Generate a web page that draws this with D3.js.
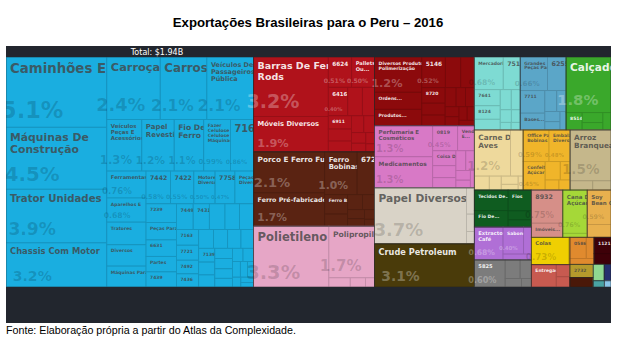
<!DOCTYPE html>
<html><head><meta charset="utf-8">
<script src="https://cdn.jsdelivr.net/npm/d3@7"></script>
<style>body{margin:0;background:#fff}svg{display:block}</style>
</head><body>
<svg id="chart" width="622" height="345"></svg>
<script>
// ---- Texts ----
const titleText = "Exportações Brasileiras para o Peru – 2016";
const sourceText = "Fonte: Elaboração própria a partir do Atlas da Complexidade.";
const totalText = "Total: $1.94B";

// ---- Sectors (treemap groups) ----
const sectorNames = ["Máquinas", "Metais", "Ferro e Aço", "Plásticos", "Químicos", "Farmacêuticos",
  "Papel", "Petróleo", "Eletrônicos", "Peças", "Calçados", "Carnes", "Alimentos", "Cereais",
  "Têxteis", "Óleos Essenciais", "Borrachas", "Mobiliário", "Açúcares", "Óleos Vegetais", "Colas",
  "Diversos", "Frutas", "Bebidas", "Minerais", "Madeira", "Sementes", "Instrumentos", "Plantas", "Fibras"];
const sectorColors = ["#1aaee0", "#b0121b", "#5a2312", "#e6a6c6", "#8c0a0c", "#d879c6",
  "#d9d3c7", "#4a3b0a", "#7edbd3", "#5ba6c8", "#3aa82b", "#eed99c", "#f0b52a", "#c5b78b",
  "#0f5c20", "#b06fd6", "#7c7c7c", "#d68f88", "#a5d838", "#e8b04e", "#efcf02",
  "#c85a50", "#e08a2e", "#3e0008", "#b59a2c", "#4a1808", "#8fd890", "#26306e", "#4aa3a3", "#8ac4e8"];

// ---- Products and shares (% of total) per sector ----
const maquinas = ["Caminhões E", "Máquinas De Construção", "Trator Unidades", "Chassis Com Motor",
  "Carroçaria", "Carros", "Veículos De Passageiros Pública", "Veículos Peças E Acessórios",
  "Papel Revestido", "Fio De Ferro", "Fazer Celulose Celulose Máquinas", "7162",
  "Ferramentas...", "Aparelhos E Peças...", "Tratores", "Diversos Máquinas...", "Máquinas Para as ac...",
  "7442", "7422", "Motores Diversos", "7758", "Peças Diversas...", "7239", "Peças Para Sistema...",
  "6631", "Partes Motor...", "7439", "7449", "7431", "7284", "7783", "7812", "7163", "7721", "7492",
  "7436", "7414", "7526", "7731", "7415", "7139", "7234", "7243", "7764", "7762", "7283", "7788",
  "7499", "7149", "7522", "7852", "7861", "7424", "7169", "7434"];
const maquinasShare = [5.1, 4.5, 3.9, 3.2, 2.4, 2.1, 2.1, 1.3, 1.2, 1.1, 0.99, 0.86,
  0.76, 0.68, 0.64, 0.60, 0.59, 0.58, 0.55, 0.50, 0.47, 0.44, 0.41, 0.38, 0.36, 0.34, 0.33,
  0.31, 0.30, 0.29, 0.27, 0.26, 0.25, 0.24, 0.22, 0.21, 0.20, 0.19, 0.18, 0.17, 0.16, 0.15,
  0.14, 0.13, 0.13, 0.12, 0.11, 0.10, 0.10, 0.09, 0.08, 0.07, 0.06, 0.05, 0.04];

const metais = ["Barras De Ferro E Rods", "Móveis Diversos", "6624", "Pallets Ou...", "6416",
  "6935", "6785", "6911", "6994", "6749", "6939", "6951", "6992", "6770", "6794", "6961"];
const metaisShare = [3.2, 1.9, 0.51, 0.50, 0.40, 0.30, 0.25, 0.22, 0.20, 0.18, 0.15, 0.13, 0.11, 0.09, 0.07, 0.05];

const ferro = ["Porco E Ferro Fundido", "Ferro Pré-fabricados", "Ferro Bobinas", "6725", "Ferro Ba...",
  "6727", "6712", "6731", "6747", "6732", "6760", "6741"];
const ferroShare = [2.1, 1.7, 1.0, 0.54, 0.32, 0.20, 0.16, 0.13, 0.11, 0.09, 0.07, 0.05];

const plasticos = ["Polietileno", "Polipropileno", "3902", "3907", "3920"];
const plasticosShare = [3.3, 1.7, 0.14, 0.10, 0.06];

const quimicos = ["Diversos Produtos Da Polimerização", "Ordens...", "Produtos...", "5146", "5169",
  "2331", "8720", "5157", "5922", "5986", "5989", "5162", "5148", "5831", "5821", "5137", "5161"];
const quimicosShare = [1.2, 0.58, 0.56, 0.52, 0.34, 0.30, 0.26, 0.20, 0.18, 0.15, 0.13, 0.12, 0.10, 0.09, 0.08, 0.07, 0.06];

const farma = ["Perfumaria E Cosméticos", "Medicamentos", "0819", "Vendas E...", "Coisa De...",
  "5419", "5532", "5542", "5417", "5413", "5530", "5416"];
const farmaShare = [1.3, 1.3, 0.45, 0.30, 0.25, 0.20, 0.17, 0.14, 0.12, 0.10, 0.08, 0.05];

const papel = ["Papel Diversos", "6415", "6419", "6421"];
const papelShare = [3.7, 0.15, 0.10, 0.07];

const petroleo = ["Crude Petroleum"];
const petroleoShare = [3.1];

const eletronicos = ["Mercadorias...", "7518", "7641", "8124", "7611", "7638", "7642", "7599", "7648", "7622", "7628"];
const eletronicosShare = [0.68, 0.40, 0.30, 0.25, 0.20, 0.16, 0.13, 0.10, 0.08, 0.06, 0.05];

const pecas = ["Grandes Peças Para Veículos", "6255", "7711", "Bases...", "6251", "7712", "6254", "7732", "6259"];
const pecasShare = [0.66, 0.45, 0.40, 0.30, 0.18, 0.14, 0.11, 0.09, 0.08];

const calcados = ["Calçados", "8514", "8512", "8519", "8517"];
const calcadosShare = [1.8, 0.20, 0.15, 0.11, 0.10];

const carnes = ["Carne De Aves", "0989", "0123", "0149", "0142", "0113", "0111"];
const carnesShare = [1.2, 0.42, 0.15, 0.12, 0.10, 0.07, 0.05];

const alimentos = ["Office Paper Bobinas", "Embalagens Diversas", "Confeitaria Açúcar", "0730", "0612", "0485", "0484"];
const alimentosShare = [0.59, 0.48, 0.45, 0.20, 0.13, 0.10, 0.08];

const cereais = ["Arroz Branqueado", "0423", "0422"];
const cereaisShare = [1.5, 0.15, 0.12];

const texteis = ["Tecidos De...", "Fio De...", "Fios Sintéticos Sintéticos", "6531", "6513"];
const texteisShare = [0.50, 0.40, 0.35, 0.15, 0.12];

const essenciais = ["Extractos E Café", "Sabonetes", "5514", "5513"];
const essenciaisShare = [0.68, 0.40, 0.15, 0.12];

const borrachas = ["5825", "5823", "5827", "5828", "5826"];
const borrachasShare = [0.60, 0.20, 0.15, 0.10, 0.06];

const mobiliario = ["8932", "Imóveis..."];
const mobiliarioShare = [0.75, 0.32];

const acucares = ["Cana De Açúcar", "0616"];
const acucaresShare = [0.76, 0.07];

const oleos = ["Soy Bean Oil", "4236"];
const oleosShare = [0.59, 0.22];

const colas = ["Colas", "5921"];
const colasShare = [0.73, 0.03];

const diversos = ["Entregadores...", "8973", "8972"];
const diversosShare = [0.40, 0.12, 0.10];

const frutas = ["0586", "0589", "0583"];
const frutasShare = [0.25, 0.12, 0.10];

const bebidas = ["1121", "1123"];
const bebidasShare = [0.20, 0.13];

const minerais = ["2732"], mineraisShare = [0.22];
const madeira = ["2483"], madeiraShare = [0.16];
const sementes = ["2929"], sementesShare = [0.13];
const instrumentos = ["8811"], instrumentosShare = [0.08];
const plantas = ["2925"], plantasShare = [0.05];
const fibras = ["2926"], fibrasShare = [0.03];

const sectorProducts = [maquinas, metais, ferro, plasticos, quimicos, farma, papel, petroleo,
  eletronicos, pecas, calcados, carnes, alimentos, cereais, texteis, essenciais, borrachas,
  mobiliario, acucares, oleos, colas, diversos, frutas, bebidas, minerais, madeira, sementes,
  instrumentos, plantas, fibras];
const sectorShares = [maquinasShare, metaisShare, ferroShare, plasticosShare, quimicosShare, farmaShare,
  papelShare, petroleoShare, eletronicosShare, pecasShare, calcadosShare, carnesShare, alimentosShare,
  cereaisShare, texteisShare, essenciaisShare, borrachasShare, mobiliarioShare, acucaresShare,
  oleosShare, colasShare, diversosShare, frutasShare, bebidasShare, mineraisShare, madeiraShare,
  sementesShare, instrumentosShare, plantasShare, fibrasShare];

// ---- Layout ----
const svg = d3.select("#chart");
const frame = {x: 6, y: 46, w: 605, h: 277};
const map = {x: 6, y: 57, w: 605, h: 230};

const color = d3.scaleOrdinal(sectorNames, sectorColors);
const fmt = d3.format(".2r");

const data = {name: "Brasil → Peru", children: sectorNames.map((s, i) => ({
  name: s,
  children: sectorProducts[i].map((n, j) => ({name: n, share: sectorShares[i][j]}))
}))};

const root = d3.hierarchy(data)
  .sum(d => d.share || 0)
  .sort((a, b) => b.value - a.value);

d3.treemap().size([map.w, map.h]).tile(d3.treemapSquarify)(root);

// text measurement in em units (DejaVu Sans Bold)
const ctx = document.createElement("canvas").getContext("2d");
ctx.font = "bold 100px 'DejaVu Sans'";
const emCache = new Map();
function em(t) {
  if (!emCache.has(t)) emCache.set(t, ctx.measureText(t).width / 100);
  return emCache.get(t);
}

// labels are laid out with a slightly narrow width estimate, so long words may spill over
const NARROW = 0.76;

function wrap(words, fs, bw) {
  const k = fs * NARROW;
  const lines = [];
  let cur = "";
  for (const wd of words) {
    const t = cur ? cur + " " + wd : wd;
    if (!cur || em(t) * k <= bw) cur = t;
    else { lines.push(cur); cur = wd; }
  }
  lines.push(cur);
  return lines;
}

function fitName(name, w, h) {
  const words = name.split(" ");
  const bw = w - 2, bh = h * 0.42;
  const areaSize = Math.sqrt(0.2 * w * h / (em(name) * NARROW));
  for (let fs = Math.min(16, h * 0.19, areaSize); fs >= 4.5; fs -= 0.25) {
    if (words.some(wd => em(wd) * fs * NARROW > bw)) continue;
    const lines = wrap(words, fs, bw);
    if (lines.length * fs * 1.15 <= bh) return {fs, lines};
  }
  const fs = 4.5;
  const maxLines = Math.max(1, Math.floor(bh / (fs * 1.15)));
  return {fs, lines: wrap(words, fs, bw).slice(0, maxLines)};
}

// background frame
svg.append("rect").attr("x", frame.x).attr("y", frame.y).attr("width", frame.w).attr("height", frame.h)
  .attr("fill", "#22262e");

svg.append("text").attr("x", 157).attr("y", 55).attr("text-anchor", "middle")
  .attr("font-family", "'DejaVu Sans', sans-serif").attr("font-size", 8).attr("fill", "#fff")
  .text(totalText);

// the treemap is clipped to its own area
svg.append("defs").append("clipPath").attr("id", "mapClip")
  .append("rect").attr("width", map.w).attr("height", map.h);

const g = svg.append("g")
  .attr("transform", `translate(${map.x},${map.y})`)
  .attr("clip-path", "url(#mapClip)");

function luminance(c) {
  const rgb = d3.rgb(c);
  const f = v => { v /= 255; return v <= 0.03928 ? v / 12.92 : Math.pow((v + 0.055) / 1.055, 2.4); };
  return 0.2126 * f(rgb.r) + 0.7152 * f(rgb.g) + 0.0722 * f(rgb.b);
}

root.children.forEach(sector => {
  const c = color(sector.data.name);
  const dark = luminance(c) < 0.3;
  const sg = g.append("g");
  sector.children.forEach(leaf => {
    const w = leaf.x1 - leaf.x0, h = leaf.y1 - leaf.y0;
    const lg = sg.append("g");
    lg.append("rect")
      .attr("x", leaf.x0).attr("y", leaf.y0).attr("width", w).attr("height", h)
      .attr("fill", c)
      .attr("stroke", d3.color(c).darker(0.45))
      .attr("stroke-width", 0.8);

    if (w >= 16 && h >= 13) {
      const fit = fitName(leaf.data.name, w, h);
      const t = lg.append("text")
        .attr("font-family", "'DejaVu Sans', sans-serif")
        .attr("font-weight", "bold")
        .attr("font-size", fit.fs)
        .attr("fill", dark ? "#ffffff" : "#444444")
        .attr("fill-opacity", dark ? 0.9 : 0.8);
      fit.lines.forEach((ln, i) => {
        t.append("tspan").attr("x", leaf.x0 + 4)
          .attr("y", leaf.y0 + 3 + fit.fs + i * fit.fs * 1.1)
          .text(ln);
      });
    }

    const pct = fmt(leaf.data.share) + "%";
    const sfs = Math.min(h * 0.32, 0.92 * w / em(pct));
    if (h >= 24 && w >= 18 && sfs >= 5) {
      lg.append("text")
        .attr("x", leaf.x0 + 0.26 * w)
        .attr("y", leaf.y1 - 0.12 * h - 1)
        .attr("text-anchor", "middle")
        .attr("font-family", "'DejaVu Sans', sans-serif")
        .attr("font-weight", "bold")
        .attr("font-size", sfs)
        .attr("fill", dark ? "#ffffff" : "#000000")
        .attr("fill-opacity", dark ? 0.3 : 0.17)
        .text(pct);
    }
  });
});

// sector outlines
g.append("g").selectAll("rect").data(root.children).join("rect")
  .attr("x", d => d.x0).attr("y", d => d.y0)
  .attr("width", d => d.x1 - d.x0).attr("height", d => d.y1 - d.y0)
  .attr("fill", "none").attr("stroke", "#2a2a2a").attr("stroke-opacity", 0.55).attr("stroke-width", 0.8);

// title and source
svg.append("text").attr("x", 308).attr("y", 27).attr("text-anchor", "middle")
  .attr("font-family", "'Liberation Sans', Arial, sans-serif").attr("font-weight", "bold")
  .attr("font-size", 13.2).attr("fill", "#000").text(titleText);

svg.append("text").attr("x", 6).attr("y", 334)
  .attr("font-family", "'Liberation Sans', Arial, sans-serif")
  .attr("font-size", 10.7).attr("fill", "#000").text(sourceText);
</script>
</body></html>
